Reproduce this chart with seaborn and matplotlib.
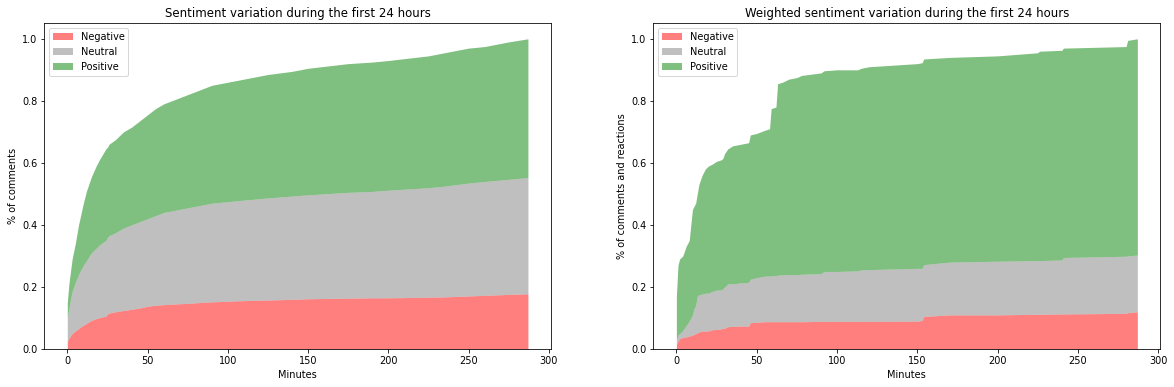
import numpy as np
import matplotlib
matplotlib.use('Agg')
import matplotlib.pyplot as plt
import seaborn as sns

# ---------------------------------------------
# Datos (fraccion acumulada)
# ---------------------------------------------
labels = ['Negative', 'Neutral', 'Positive']
colors = ['red', 'gray', 'green']

# Panel izquierdo: comentarios
minutes_c = [0, 1, 2, 3, 5, 7, 10, 12, 15, 18, 20, 24, 25, 26, 30, 35, 40, 45, 50, 55,
             60, 70, 75, 80, 90, 100, 110, 125, 140, 150, 175, 190, 200, 225, 235, 250,
             260, 275, 287]
neg_c = [0.025, 0.035, 0.042, 0.05, 0.058, 0.066, 0.077, 0.083, 0.092, 0.098,
         0.101, 0.106, 0.113, 0.116, 0.12, 0.124, 0.128, 0.132, 0.138, 0.141,
         0.143, 0.146, 0.147, 0.149, 0.152, 0.154, 0.156, 0.158, 0.16, 0.162,
         0.164, 0.165, 0.165, 0.167, 0.168, 0.171, 0.173, 0.176, 0.178]
neu_top_c = [0.10, 0.13, 0.16, 0.185, 0.215, 0.24, 0.27, 0.285, 0.31, 0.325,
             0.335, 0.35, 0.36, 0.365, 0.375, 0.39, 0.40, 0.41, 0.42, 0.43,
             0.44, 0.45, 0.455, 0.46, 0.47, 0.475, 0.48, 0.487, 0.493, 0.497,
             0.505, 0.508, 0.512, 0.52, 0.525, 0.535, 0.54, 0.547, 0.553]
pos_top_c = [0.15, 0.21, 0.25, 0.29, 0.34, 0.40, 0.47, 0.51, 0.555, 0.59,
             0.61, 0.645, 0.65, 0.66, 0.675, 0.70, 0.715, 0.735, 0.755, 0.775,
             0.79, 0.81, 0.82, 0.83, 0.85, 0.86, 0.87, 0.885, 0.895, 0.905,
             0.92, 0.925, 0.93, 0.945, 0.955, 0.97, 0.975, 0.99, 1.0]

# Panel derecho: comentarios + reacciones (ponderado)
minutes_w = [0, 1, 2, 4, 6, 8, 9, 10, 11, 12, 13, 14, 16, 18, 20, 22, 25, 28, 29, 30,
             32, 35, 40, 45, 46, 50, 55, 58, 59, 62, 63, 66, 70, 75, 78, 90, 92, 100,
             113, 115, 120, 150, 153, 154, 170, 200, 225, 226, 240, 241, 280, 281, 287]
neg_w = [0.015, 0.025, 0.033, 0.037, 0.039, 0.042, 0.043, 0.045, 0.047, 0.05,
         0.052, 0.055, 0.057, 0.058, 0.058, 0.062, 0.063, 0.065, 0.066, 0.067,
         0.072, 0.073, 0.074, 0.074, 0.085, 0.086, 0.088, 0.088, 0.088, 0.088,
         0.088, 0.088, 0.088, 0.088, 0.088, 0.089, 0.089, 0.089, 0.089, 0.089,
         0.089, 0.09, 0.092, 0.105, 0.11, 0.11, 0.112, 0.112, 0.113, 0.113,
         0.115, 0.117, 0.12]
neu_top_w = [0.03, 0.045, 0.05, 0.06, 0.075, 0.09, 0.10, 0.11, 0.13, 0.14,
             0.17, 0.175, 0.177, 0.18, 0.18, 0.185, 0.19, 0.19, 0.195, 0.2,
             0.21, 0.21, 0.213, 0.215, 0.225, 0.23, 0.235, 0.235, 0.236, 0.237,
             0.238, 0.239, 0.24, 0.24, 0.241, 0.243, 0.25, 0.25, 0.252, 0.255,
             0.256, 0.26, 0.26, 0.272, 0.28, 0.283, 0.285, 0.285, 0.287, 0.295,
             0.299, 0.3, 0.303]
pos_top_w = [0.17, 0.27, 0.29, 0.30, 0.33, 0.35, 0.40, 0.45, 0.46, 0.47,
             0.50, 0.53, 0.56, 0.58, 0.59, 0.595, 0.605, 0.61, 0.615, 0.63,
             0.645, 0.655, 0.66, 0.665, 0.69, 0.695, 0.705, 0.71, 0.775, 0.78,
             0.855, 0.86, 0.87, 0.875, 0.882, 0.89, 0.897, 0.9, 0.9, 0.905,
             0.91, 0.92, 0.923, 0.935, 0.94, 0.945, 0.955, 0.96, 0.963, 0.97,
             0.975, 0.995, 1.0]

# ---------------------------------------------
# Estilo
# ---------------------------------------------
sns.set_style('ticks', {'axes.edgecolor': 'black', 'xtick.color': 'black',
                        'ytick.color': 'black', 'text.color': 'black',
                        'axes.labelcolor': 'black'})
plt.rcParams['font.family'] = ['DejaVu Sans']
plt.rcParams['font.size'] = 9.8
plt.rcParams['axes.titlesize'] = 11.8
plt.rcParams['xtick.direction'] = 'out'
plt.rcParams['ytick.direction'] = 'out'


def layers(neg, neu_top, pos_top):
    # pasar de limites acumulados a grosor de cada capa
    neg = np.array(neg)
    neu = np.array(neu_top) - neg
    pos = np.array(pos_top) - np.array(neu_top)
    return neg, neu, pos


fig, axes = plt.subplots(1, 2, figsize=(1174 / 72, 387 / 72), dpi=72)
bottom, height = 0.0982, 0.8416
axes[0].set_position([0.0377, bottom, 0.4316, height])
axes[1].set_position([0.5565, bottom, 0.4319, height])

panels = [
    (axes[0], minutes_c, layers(neg_c, neu_top_c, pos_top_c),
     'Sentiment variation during the first 24 hours', '% of comments'),
    (axes[1], minutes_w, layers(neg_w, neu_top_w, pos_top_w),
     'Weighted sentiment variation during the first 24 hours', '% of comments and reactions'),
]

for ax, x, ys, title, ylabel in panels:
    ax.stackplot(x, *ys, labels=labels, colors=colors, alpha=0.5, linewidth=0)
    ax.set_title(title)
    ax.set_xlabel('Minutes')
    ax.set_ylabel(ylabel)
    ax.set_xticks([0, 50, 100, 150, 200, 250, 300])
    ax.set_yticks([0.0, 0.2, 0.4, 0.6, 0.8, 1.0])
    ax.legend(loc='upper left', frameon=True)

fig.savefig('out.png', dpi=72)
plt.close()
